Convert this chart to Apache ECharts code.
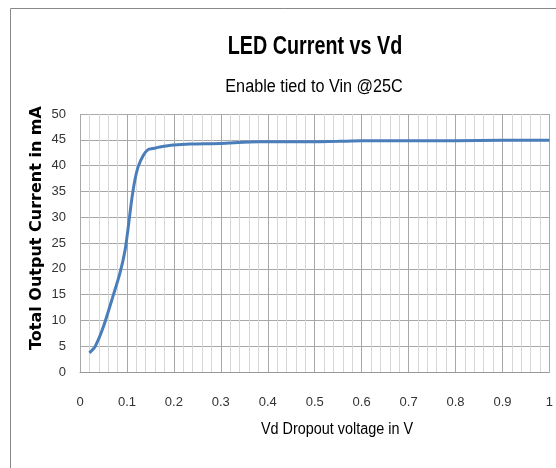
<!DOCTYPE html>
<html><head><meta charset="utf-8">
<script src="https://cdn.jsdelivr.net/npm/echarts@6/dist/echarts.min.js"></script>
<style>html,body{margin:0;padding:0;background:#fff}#c{width:556px;height:468px}</style>
</head><body><div id="c"></div>
<script>
var titleText = "LED Current vs Vd";
var subtitleText = "Enable tied to Vin @25C";
var xAxisName = "Vd Dropout voltage in V";
var yAxisName = "Total Output Current in mA";
var vd = [0.02, 0.032, 0.05, 0.071, 0.085, 0.096, 0.103, 0.11, 0.117, 0.124, 0.135, 0.145, 0.155, 0.17, 0.2, 0.234, 0.3, 0.38, 0.47, 0.55, 0.6, 0.7, 0.8, 0.9, 1.0];
var current = [3.7, 4.9, 8.8, 14.9, 19.1, 23.6, 28.2, 33.3, 37.2, 39.8, 42.0, 43.1, 43.3, 43.6, 44.0, 44.2, 44.3, 44.6, 44.6, 44.7, 44.8, 44.8, 44.8, 44.9, 44.9];
var points = vd.map(function(v, i){ return [v, current[i]]; });
var font = "'Liberation Sans', sans-serif";
var chart = echarts.init(document.getElementById('c'), null, {renderer:'canvas'});
chart.setOption({
  animation:false,
  backgroundColor:'#fff',
  graphic:[
    {type:'line', shape:{x1:10.5,y1:8.5,x2:556,y2:8.5}, style:{stroke:'#888', lineWidth:1}},
    {type:'line', shape:{x1:10.5,y1:8.5,x2:10.5,y2:468}, style:{stroke:'#888', lineWidth:1}},
    {type:'text', x:315, y:47, scaleX:0.76, style:{text:titleText, font:"bold 26px 'Liberation Sans', sans-serif", fill:'#000', textAlign:'center', textVerticalAlign:'middle'}},
    {type:'text', x:314, y:87, scaleX:0.9, style:{text:subtitleText, font:"18px 'Liberation Sans', sans-serif", fill:'#000', textAlign:'center', textVerticalAlign:'middle'}},
    {type:'text', x:337, y:430, scaleX:0.9, style:{text:xAxisName, font:"16px 'Liberation Sans', sans-serif", fill:'#000', textAlign:'center', textVerticalAlign:'middle'}},
    {type:'text', x:37, y:228, rotation:Math.PI/2, style:{text:yAxisName, font:"bold 16px 'DejaVu Sans', sans-serif", fill:'#000', textAlign:'center', textVerticalAlign:'middle'}}
  ],
  grid:{left:80, right:6, top:114, bottom:96},
  xAxis:{
    type:'value', min:0, max:1, interval:0.1,
    axisLine:{show:true, lineStyle:{color:'#999'}},
    axisTick:{show:false},
    axisLabel:{fontFamily:font, fontSize:13, color:'#333', margin:24, formatter:function(v){return String(Math.round(v*10)/10);}},
    splitLine:{show:true, lineStyle:{color:'#a8a8a8', width:1}},
    minorTick:{show:false, splitNumber:5},
    minorSplitLine:{show:true, lineStyle:{color:'#d6d6d6', width:1}}
  },
  yAxis:{
    type:'value', min:0, max:50, interval:5,
    axisLine:{show:false}, axisTick:{show:false},
    axisLabel:{fontFamily:font, fontSize:13, color:'#333', margin:14},
    splitLine:{show:true, lineStyle:{color:'#a8a8a8', width:1}}
  },
  series:[{
    type:'line', data:points, smooth:0.2, showSymbol:false,
    lineStyle:{color:'#4a7ebb', width:3}
  }]
});
</script></body></html>
